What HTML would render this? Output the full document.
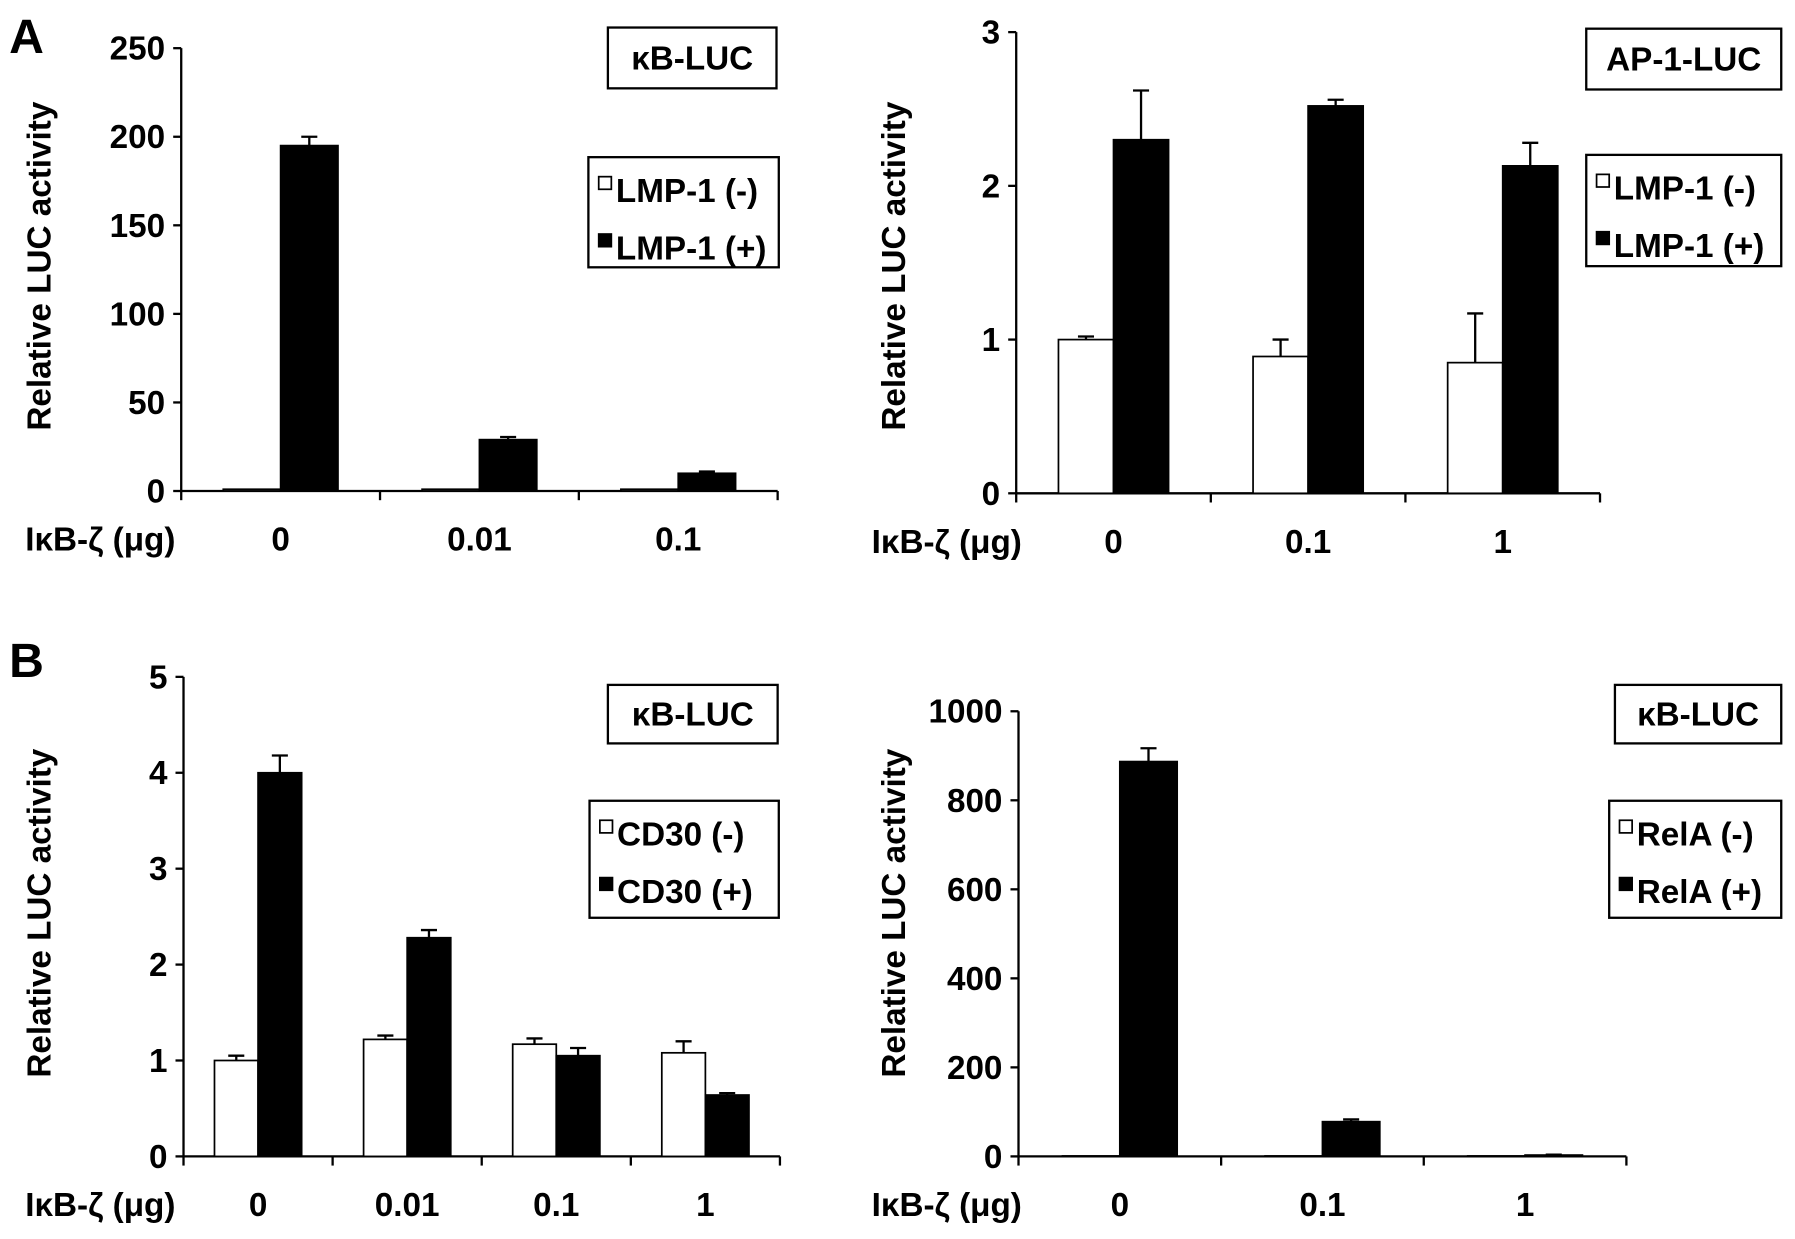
<!DOCTYPE html>
<html><head><meta charset="utf-8"><style>
html,body{margin:0;padding:0;background:#fff;}
svg{display:block;}
text{font-family:"Liberation Sans Narrow","Liberation Sans",sans-serif;font-weight:bold;fill:#000;}
.yl{font-family:"Liberation Sans",sans-serif;}
</style></head><body>
<svg id="fig" width="1795" height="1239" viewBox="0 0 1565 1080" preserveAspectRatio="none" xmlns="http://www.w3.org/2000/svg">
<text x="8" y="46" font-size="42" class="yl">A</text>
<text x="8" y="590" font-size="42" class="yl">B</text>
</svg>
<script>
// Panel A left: kB-LUC, LMP-1
const a1Categories = ['0','0.01','0.1'];
const a1Neg = [1, 1, 1];
const a1NegErr = [0, 0, 0];
const a1Pos = [195, 29, 10];
const a1PosErr = [5, 1.5, 1];
const a1Ticks = [0, 50, 100, 150, 200, 250];
// Panel A right: AP-1-LUC, LMP-1
const a2Categories = ['0','0.1','1'];
const a2Neg = [1.0, 0.89, 0.85];
const a2NegErr = [0.02, 0.11, 0.32];
const a2Pos = [2.3, 2.52, 2.13];
const a2PosErr = [0.32, 0.04, 0.15];
const a2Ticks = [0, 1, 2, 3];
// Panel B left: kB-LUC, CD30
const b1Categories = ['0','0.01','0.1','1'];
const b1Neg = [1.0, 1.22, 1.17, 1.08];
const b1NegErr = [0.05, 0.04, 0.06, 0.12];
const b1Pos = [4.0, 2.28, 1.05, 0.64];
const b1PosErr = [0.18, 0.08, 0.08, 0.02];
const b1Ticks = [0, 1, 2, 3, 4, 5];
// Panel B right: kB-LUC, RelA
const b2Categories = ['0','0.1','1'];
const b2Neg = [1, 1, 1];
const b2NegErr = [0, 0, 0];
const b2Pos = [887, 78, 3];
const b2PosErr = [30, 5, 1];
const b2Ticks = [0, 200, 400, 600, 800, 1000];

const NS = 'http://www.w3.org/2000/svg';
const svg = document.getElementById('fig');
function mk(tag, attrs, parent, txt){
  const e = document.createElementNS(NS, tag);
  for (const k in attrs) e.setAttribute(k, attrs[k]);
  if (txt !== undefined) e.textContent = txt;
  (parent || svg).appendChild(e);
  return e;
}
function panel(id, cfg, cats, neg, negErr, pos, posErr, ticks){
  const g = mk('g', {});
  
  
  const max = ticks[ticks.length-1];
  const y = v => cfg.y0 - (v/max)*(cfg.y0 - cfg.yTop);
  const cw = (cfg.x1 - cfg.x0)/cats.length;
  const xc = i => cfg.x0 + cw*(i+0.5);
  const ya = mk('line', {x1:cfg.x0,y1:cfg.yTop,x2:cfg.x0,y2:cfg.y0,stroke:'#000','stroke-width':2}, g);
  
  
  const xa = mk('line', {x1:cfg.x0,y1:cfg.y0,x2:cfg.x1,y2:cfg.y0,stroke:'#000','stroke-width':2}, g);
  
  
  ticks.forEach(t => {
    mk('line', {x1:cfg.x0-7,y1:y(t),x2:cfg.x0,y2:y(t),stroke:'#000','stroke-width':2}, g);
    const tl = mk('text', {x:cfg.x0-14,y:y(t)+10,'font-size':29,'text-anchor':'end'}, g, String(t));
    
    
  });
  for (let i=0;i<=cats.length;i++){
    mk('line', {x1:cfg.x0+cw*i,y1:cfg.y0,x2:cfg.x0+cw*i,y2:cfg.y0+8,stroke:'#000','stroke-width':2}, g);
  }
  cats.forEach((c,i) => {
    const cl = mk('text', {x:xc(i),y:cfg.y0+52,'font-size':29,'text-anchor':'middle'}, g, c);
    
    
    const series = [[neg,negErr,'#fff',-1,'neg'],[pos,posErr,'#000',0,'pos']];
    series.forEach(([vals,errs,fill,off,nm]) => {
      const v = vals[i], e = errs[i];
      const bx = xc(i) + off*cfg.bw;
      const bar = mk('rect', {x:bx,y:y(v),width:cfg.bw,height:cfg.y0-y(v),fill:fill,stroke:'#000','stroke-width':1.5}, g);
      
      
      if (e > 0){
        const cx = bx + cfg.bw/2;
        mk('line', {x1:cx,y1:y(v),x2:cx,y2:y(v+e),stroke:'#000','stroke-width':2}, g);
        mk('line', {x1:cx-7,y1:y(v+e),x2:cx+7,y2:y(v+e),stroke:'#000','stroke-width':2}, g);
      }
    });
  });
  const yl = mk('text', {x:0,y:0,'font-size':29,'text-anchor':'middle',class:'yl',transform:`translate(${cfg.ylx},${cfg.yly}) rotate(-90)`}, g, 'Relative LUC activity');
  
  
  const xl = mk('text', {x:cfg.xlx,y:cfg.y0+52,'font-size':29}, g, 'IκB-ζ (μg)');
  
  
  const tb = cfg.tbox;
  const tr = mk('rect', {x:tb[0],y:tb[1],width:tb[2]-tb[0],height:tb[3]-tb[1],fill:'#fff',stroke:'#000','stroke-width':2}, g);
  
  
  const tt = mk('text', {x:(tb[0]+tb[2])/2,y:(tb[1]+tb[3])/2+10,'font-size':29,'text-anchor':'middle'}, g, cfg.title);
  
  
  const lb = cfg.lbox;
  const lr = mk('rect', {x:lb[0],y:lb[1],width:lb[2]-lb[0],height:lb[3]-lb[1],fill:'#fff',stroke:'#000','stroke-width':2}, g);
  
  
  [[cfg.leg[0],'#fff'],[cfg.leg[1],'#000']].forEach(([lab,fill],k) => {
    const ly = lb[1] + 39 + k*50;
    mk('rect', {x:lb[0]+9,y:ly-22,width:11,height:11,fill:fill,stroke:'#000','stroke-width':1.5}, g);
    const lt = mk('text', {x:lb[0]+24,y:ly,'font-size':29}, g, lab);
    
    
  });
}
panel('a-kb', {x0:158,x1:678,y0:428,yTop:42,bw:50,ylx:44,yly:232,xlx:22,title:'κB-LUC',tbox:[530,24,677,77],lbox:[513,137,679,233],leg:['LMP-1 (-)','LMP-1 (+)']},
  a1Categories, a1Neg, a1NegErr, a1Pos, a1PosErr, a1Ticks);
panel('a-ap1', {x0:886,x1:1395,y0:430,yTop:28,bw:48,ylx:789,yly:232,xlx:760,title:'AP-1-LUC',tbox:[1383,25,1553,78],lbox:[1383,135,1553,232],leg:['LMP-1 (-)','LMP-1 (+)']},
  a2Categories, a2Neg, a2NegErr, a2Pos, a2PosErr, a2Ticks);
panel('b-cd30', {x0:160,x1:680,y0:1008,yTop:590,bw:38,ylx:44,yly:796,xlx:22,title:'κB-LUC',tbox:[530,597,678,648],lbox:[514,698,679,800],leg:['CD30 (-)','CD30 (+)']},
  b1Categories, b1Neg, b1NegErr, b1Pos, b1PosErr, b1Ticks);
panel('b-rela', {x0:888,x1:1418,y0:1008,yTop:620,bw:50,ylx:789,yly:796,xlx:760,title:'κB-LUC',tbox:[1408,597,1553,648],lbox:[1403,698,1553,800],leg:['RelA (-)','RelA (+)']},
  b2Categories, b2Neg, b2NegErr, b2Pos, b2PosErr, b2Ticks);
</script>
</body></html>
